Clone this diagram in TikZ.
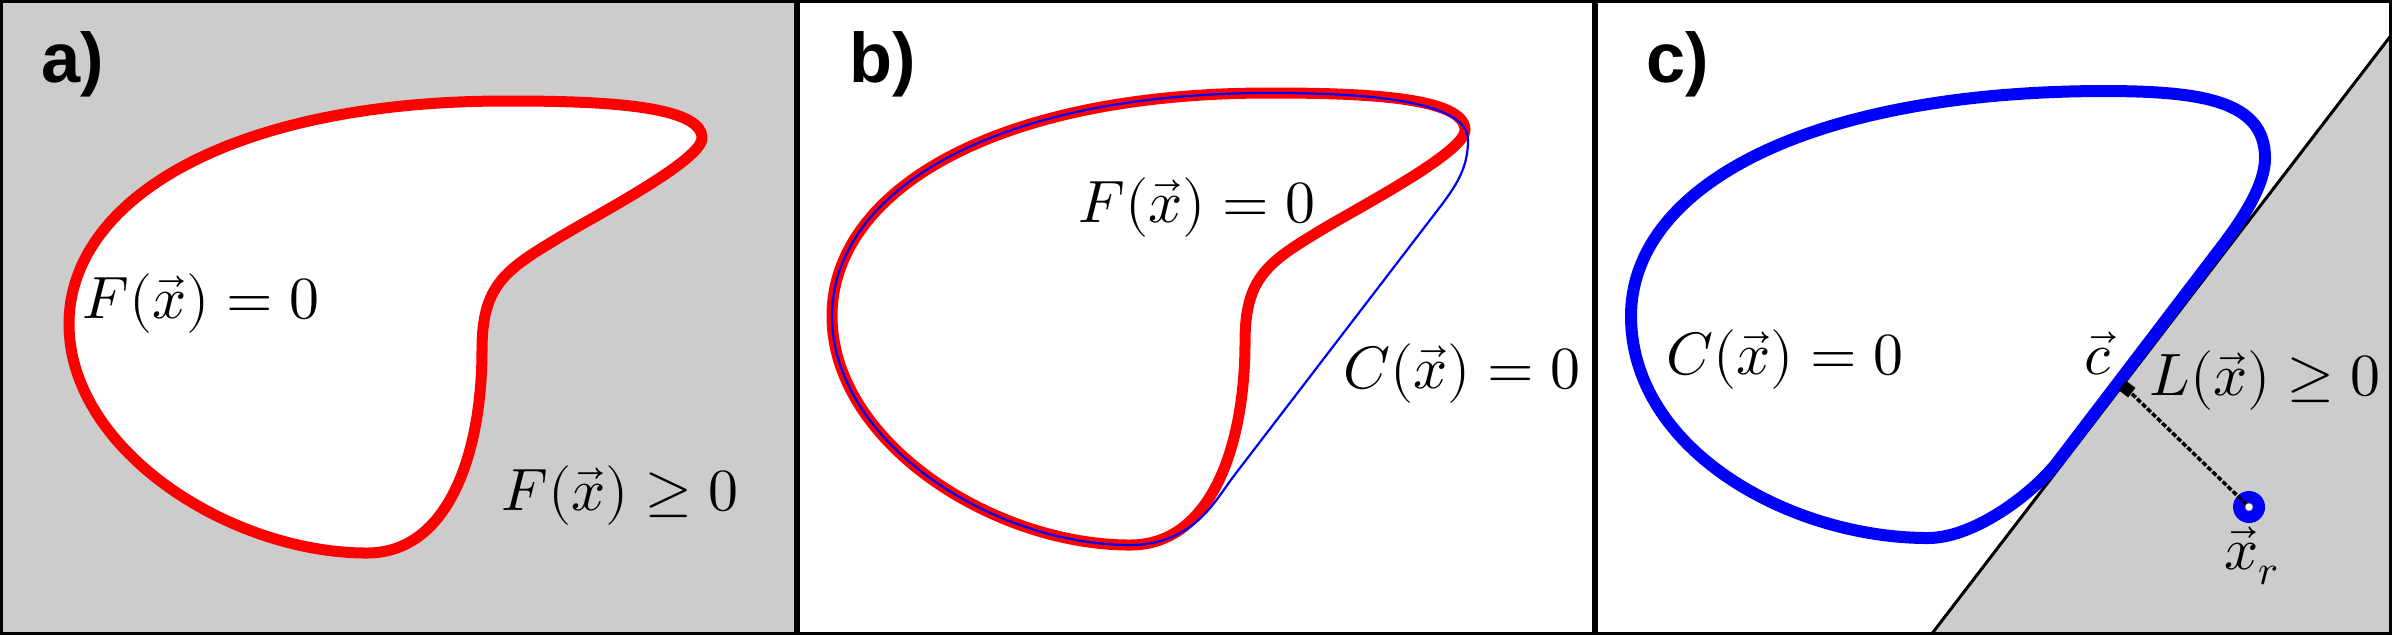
\documentclass[tikz,border=0pt]{standalone}
\usepackage{fontspec}
\usepackage{unicode-math}
\setmathfont{Latin Modern Math}
\newfontfamily\labfont{Liberation Sans}
\definecolor{panelgray}{HTML}{CCCCCC}
\tikzset{
  lab/.style={font=\labfont\bfseries\fontsize{20}{24}\selectfont, anchor=base west, inner sep=0},
  eq/.style={font=\fontsize{17}{20}\selectfont, inner sep=0, anchor=center},
  frame/.style={draw=black, line width=0.03cm},
  thickred/.style={draw=red, line width=0.11cm, line join=round},
  thinblue/.style={draw=blue, line width=0.022cm},
  thickblue/.style={draw=blue, line width=0.12cm, line join=round},
  shapeA/.style={insert path={
    (69,324) .. controls (69,200) and (230,100) .. (510,101)
    .. controls (600,101) and (702,105) .. (702,138)
    .. controls (702,160) and (600,213) .. (560,237)
    .. controls (505,270) and (482,285) .. (482,350)
    .. controls (482,450) and (450,553) .. (367,553)
    .. controls (230,553) and (69,450) .. cycle}},
  shapeB/.style={insert path={
    (69,324) .. controls (69,200) and (230,100) .. (510,101)
    .. controls (600,101) and (705,108) .. (705,148)
    .. controls (705,180) and (690,198) .. (667,228)
    -- (470,485)
    .. controls (452,509) and (430,553) .. (367,553)
    .. controls (230,553) and (69,450) .. cycle}},
  shapeC/.style={insert path={
    (1631,316) .. controls (1631,190) and (1800,92) .. (2102,91)
    .. controls (2200,91) and (2265,100) .. (2265,158)
    .. controls (2265,185) and (2243,219) .. (2219,250)
    -- (2059,460)
    .. controls (2035,492) and (1975,538) .. (1928,538)
    .. controls (1790,538) and (1631,450) .. cycle}},
}
\begin{document}
\begin{tikzpicture}[x=0.01cm, y=-0.01cm]
\useasboundingbox (0,0) rectangle (2392,635);
% panel a
\fill[panelgray] (1.5,1.5) rectangle (795.5,633.5);
\fill[white, shapeA];
\draw[thickred, shapeA];
\draw[frame] (1.5,1.5) rectangle (795.5,633.5);
\node[lab] (la) at (41,82) {a)};
\node[eq] (fa0) at (201,304) {$F(\vec{x})=0$};
\node[eq] (fa1) at (620,496) {$F(\vec{x})\geq 0$};
% panel b
\fill[white] (798.5,1.5) rectangle (1593.5,633.5);
\draw[thickred, shift={(763,-8)}, shapeA];
\draw[thinblue, shift={(763,-8)}, shapeB];
\draw[frame] (798.5,1.5) rectangle (1593.5,633.5);
\node[lab] (lb) at (849,82) {b)};
\node[eq] (fb0) at (1197,208) {$F(\vec{x})=0$};
\node[eq] (cb0) at (1462,374) {$C(\vec{x})=0$};
% panel c
\fill[white] (1596.5,1.5) rectangle (2390.5,633.5);
\fill[panelgray] (1932,633.5) -- (2390.5,36) -- (2390.5,633.5) -- cycle;
\draw[black, line width=0.03cm] (1932,633.5) -- (2390.5,36);
\draw[thickblue, shapeC];
\coordinate (cpt) at (2127,389);
\node[circle, fill=blue, minimum size=0.32cm, inner sep=0] (xr) at (2249,507) {};
\draw[black, line width=0.035cm, dash pattern=on 0.05cm off 0.02cm] (cpt) -- (xr.center);
\node[fill=black, minimum size=0.12cm, inner sep=0, rotate=52.6] (sq) at (cpt) {};
\fill[white, draw=black!60, line width=0.005cm] (xr.center) circle (0.04cm);
\draw[frame] (1596.5,1.5) rectangle (2390.5,633.5);
\node[lab] (lc) at (1646,82) {c)};
\node[eq] (cc0) at (1785,360) {$C(\vec{x})=0$};
\node[eq] (cvec) at (2098,354) {$\vec{c}$};
\node[eq] (lc0) at (2265,381) {$L(\vec{x})\geq 0$};
\node[eq] (xrl) at (2252,556) {$\vec{x}_r$};
\end{tikzpicture}
\end{document}
